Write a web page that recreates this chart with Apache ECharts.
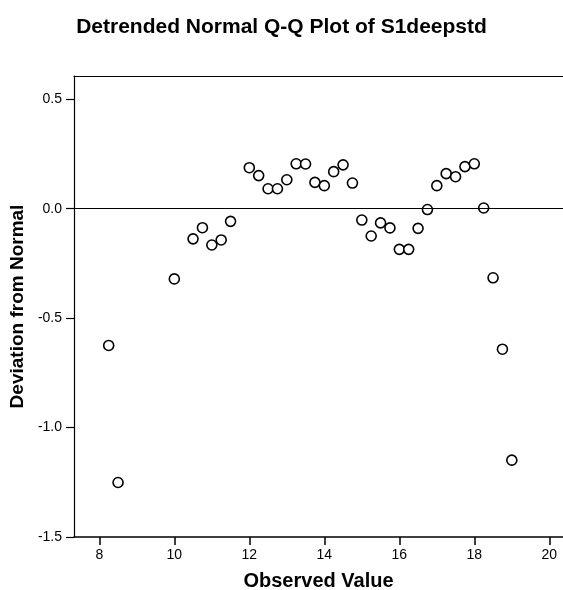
<!DOCTYPE html>
<html>
<head>
<meta charset="utf-8">
<script src="https://cdn.jsdelivr.net/npm/echarts@6/dist/echarts.min.js"></script>
<style>html,body{margin:0;padding:0;background:#fff}#c{width:563px;height:590px}</style>
</head>
<body>
<div id="c"></div>
<script>
const titleText = 'Detrended Normal Q-Q Plot of S1deepstd';
const xName = 'Observed Value';
const yName = 'Deviation from Normal';
const observed = [8.25, 8.5, 10, 10.5, 10.75, 11, 11.25, 11.5, 12, 12.25, 12.5, 12.75, 13, 13.25, 13.5, 13.75, 14, 14.25, 14.5, 14.75, 15, 15.25, 15.5, 15.75, 16, 16.25, 16.5, 16.75, 17, 17.25, 17.5, 17.75, 18, 18.25, 18.5, 18.75, 19];
const deviation = [-0.625, -1.251, -0.321, -0.138, -0.087, -0.166, -0.143, -0.058, 0.187, 0.151, 0.091, 0.091, 0.132, 0.205, 0.204, 0.12, 0.105, 0.169, 0.2, 0.117, -0.052, -0.125, -0.065, -0.088, -0.186, -0.186, -0.09, -0.004, 0.105, 0.16, 0.146, 0.192, 0.205, 0.003, -0.316, -0.642, -1.149];
const xTicks = [8, 10, 12, 14, 16, 18, 20];
const yTicks = [-1.5, -1.0, -0.5, 0.0, 0.5];

const font = "'Liberation Sans', Arial, sans-serif";
const chart = echarts.init(document.getElementById('c'), null, {renderer: 'canvas'});
const xMin = 7.325, xMax = 20.365;
chart.setOption({
  animation: false,
  backgroundColor: '#fff',
  title: {
    text: titleText, left: 'center', top: 12,
    textStyle: {fontFamily: font, fontWeight: 'bold', fontSize: 21, color: '#000'}
  },
  grid: {left: 74, top: 76, right: 0, bottom: 53, outerBoundsMode: 'none', containLabel: false},
  xAxis: [{
    type: 'value', min: xMin, max: xMax,
    name: xName, nameLocation: 'middle', nameGap: 34,
    nameTextStyle: {fontFamily: font, fontWeight: 'bold', fontSize: 20, color: '#000'},
    axisLine: {onZero: false, lineStyle: {color: '#000', width: 1.5}},
    axisTick: {length: 8, customValues: xTicks, lineStyle: {color: '#000', width: 1.5}},
    axisLabel: {customValues: xTicks, margin: 11, fontFamily: font, fontSize: 14, color: '#000'},
    splitLine: {show: false}
  }, {
    type: 'value', min: xMin, max: xMax, position: 'top',
    axisLine: {onZero: false, lineStyle: {color: '#000', width: 1.2}},
    axisTick: {show: false}, axisLabel: {show: false}, splitLine: {show: false}
  }],
  yAxis: {
    type: 'value', min: -1.5, max: 0.606,
    name: yName, nameLocation: 'middle', nameGap: 42,
    nameTextStyle: {fontFamily: font, fontWeight: 'bold', fontSize: 19, color: '#000'},
    axisLine: {onZero: false, lineStyle: {color: '#000', width: 1.2}},
    axisTick: {length: 8, customValues: yTicks, lineStyle: {color: '#000', width: 1.2}},
    axisLabel: {customValues: yTicks, margin: 12, fontFamily: font, fontSize: 14, color: '#000',
      formatter: v => v.toFixed(1)},
    splitLine: {show: false}
  },
  series: [{
    type: 'scatter',
    data: observed.map((x, i) => [x, deviation[i]]),
    symbol: 'circle', symbolSize: 10,
    itemStyle: {color: '#fff', borderColor: '#000', borderWidth: 1.6, opacity: 1},
    markLine: {
      silent: true, symbol: ['none', 'none'], label: {show: false},
      lineStyle: {color: '#000', width: 1.2, type: 'solid'},
      data: [{yAxis: 0}]
    },
    z: 3
  }]
});
</script>
</body>
</html>
